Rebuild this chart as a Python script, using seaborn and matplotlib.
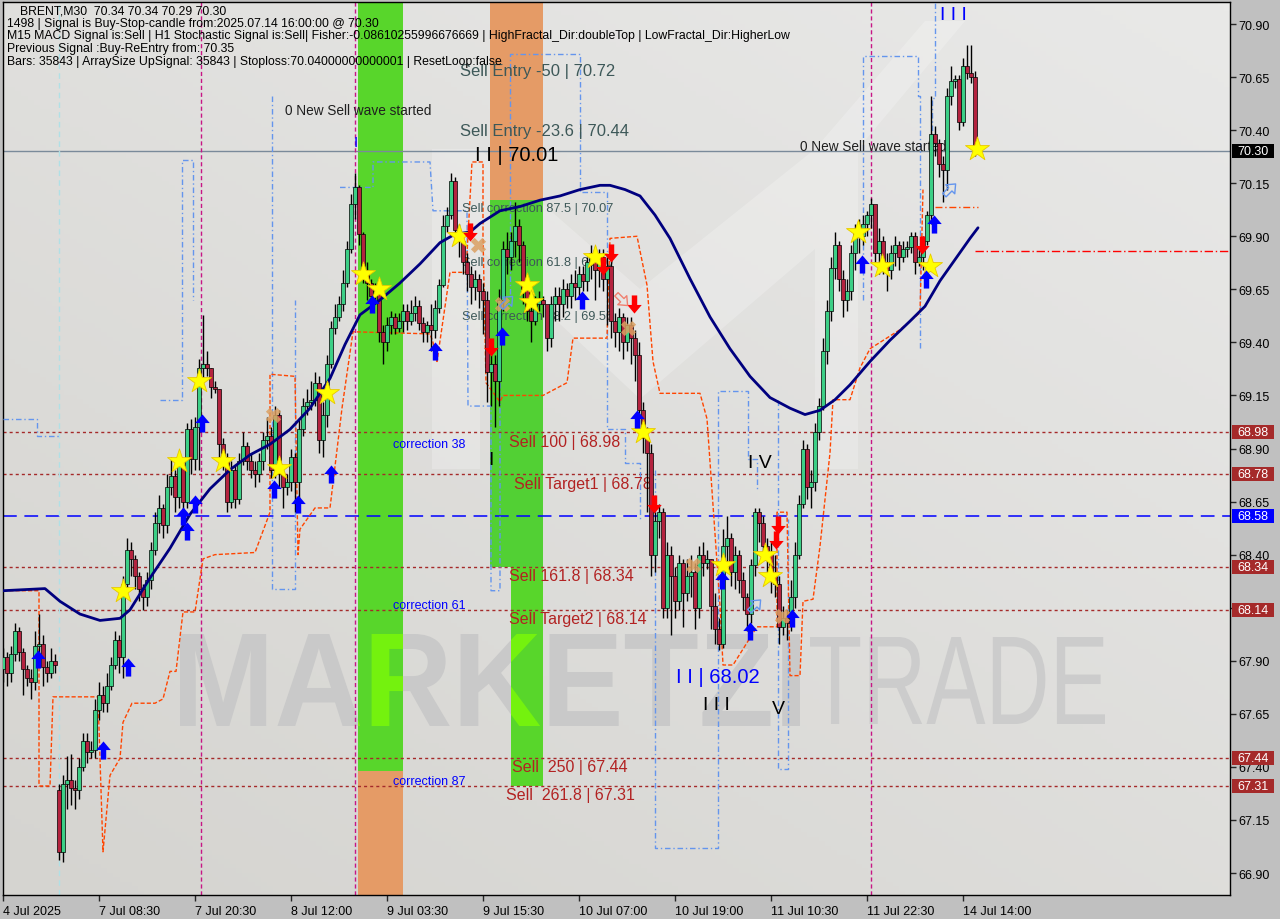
import matplotlib
matplotlib.use("Agg")
import numpy as np
import pandas as pd
import matplotlib.pyplot as plt
import seaborn as sns
from matplotlib import transforms
from matplotlib.font_manager import FontProperties
from matplotlib.patches import PathPatch, Rectangle, Polygon
from matplotlib.textpath import TextPath
from matplotlib.path import Path
from matplotlib.colors import LinearSegmentedColormap

# ---------------- data (x = bar number of 30 min bars) ----------------
closes = [
    67.92, 67.84, 67.93, 68.04, 67.94, 67.86, 67.82, 67.80, 67.97, 67.98,
    67.87, 67.84, 67.90, 67.88, 67.00, 67.32, 67.34, 67.30, 67.29, 67.40,
    67.52, 67.47, 67.48, 67.67, 67.74, 67.70, 67.78, 67.88, 68.00, 67.92,
    68.26, 68.42, 68.38, 68.30, 68.24, 68.20, 68.28, 68.42, 68.55, 68.62,
    68.54, 68.72, 68.77, 68.67, 68.82, 68.65, 68.99, 68.85, 69.00, 69.28,
    69.30, 69.28, 69.19, 69.18, 68.92, 68.86, 68.65, 68.80, 68.66, 68.84,
    68.91, 68.84, 68.80, 68.78, 68.84, 68.94, 68.96, 68.80, 69.06, 68.78,
    68.72, 68.74, 68.86, 68.74, 68.99, 69.10, 69.12, 69.13, 69.21, 68.94,
    69.06, 69.30, 69.47, 69.52, 69.58, 69.68, 69.84, 70.05, 70.13, 69.91,
    69.73, 69.68, 69.62, 69.64, 69.45, 69.40, 69.48, 69.52, 69.47, 69.50,
    69.55, 69.50, 69.54, 69.57, 69.49, 69.45, 69.48, 69.46, 69.56, 69.67,
    69.95, 70.00, 70.16, 69.93, 69.88, 69.78, 69.72, 69.66, 69.70, 69.64,
    69.60, 69.26, 69.30, 69.22, 69.60, 69.84, 69.80, 69.88, 69.95, 69.86,
    69.65, 69.55, 69.50, 69.58, 69.60, 69.58, 69.42, 69.58, 69.62, 69.58,
    69.65, 69.62, 69.68, 69.66, 69.72, 69.69, 69.78, 69.82, 69.74, 69.80,
    69.70, 69.76, 69.50, 69.45, 69.52, 69.40, 69.48, 69.42, 69.34, 69.08,
    68.95, 68.88, 68.40, 68.56, 68.60, 68.15, 68.40, 68.30, 68.18, 68.36,
    68.22, 68.30, 68.32, 68.15, 68.40, 68.36, 68.38, 68.16, 68.05, 67.98,
    68.44, 68.48, 68.32, 68.40, 68.28, 68.20, 68.12, 68.35, 68.60, 68.55,
    68.44, 68.40, 68.30, 68.26, 68.06, 68.10, 68.08, 68.20, 68.40, 68.64,
    68.90, 68.72, 68.74, 68.98, 69.10, 69.36, 69.55, 69.75, 69.86, 69.70,
    69.60, 69.64, 69.82, 69.92, 69.90, 69.96, 70.00, 70.05, 69.82, 69.88,
    69.78, 69.74, 69.82, 69.86, 69.80, 69.84, 69.85, 69.90, 69.78, 69.80,
    69.88, 70.00, 70.38, 70.34, 70.24, 70.21, 70.56, 70.63, 70.64, 70.44,
    70.70, 70.67, 70.65, 70.30,
]
highs = [
    67.96, 67.94, 67.97, 68.08, 68.06, 67.96, 67.88, 67.86, 68.04, 68.12,
    68.02, 67.90, 67.96, 67.93, 67.32, 67.36, 67.45, 67.46, 67.34, 67.44,
    67.56, 67.56, 67.52, 67.72, 67.80, 67.78, 67.84, 67.92, 68.04, 68.02,
    68.30, 68.48, 68.46, 68.40, 68.32, 68.26, 68.32, 68.46, 68.60, 68.68,
    68.64, 68.78, 68.86, 68.80, 68.86, 68.84, 69.02, 69.04, 69.05, 69.32,
    69.53, 69.36, 69.28, 69.22, 69.18, 68.95, 68.88, 68.84, 68.82, 68.88,
    68.98, 68.93, 68.88, 68.84, 68.88, 68.98, 69.05, 69.00, 69.10, 69.08,
    68.80, 68.78, 68.90, 68.88, 69.04, 69.14, 69.18, 69.22, 69.26, 69.24,
    69.12, 69.34, 69.50, 69.58, 69.62, 69.74, 69.88, 70.10, 70.20, 70.14,
    69.92, 69.78, 69.70, 69.68, 69.62, 69.48, 69.52, 69.55, 69.54, 69.54,
    69.58, 69.58, 69.60, 69.62, 69.60, 69.52, 69.50, 69.58, 69.60, 69.70,
    70.00, 70.04, 70.20, 70.18, 69.96, 69.92, 69.82, 69.76, 69.74, 69.72,
    69.68, 69.64, 69.36, 69.34, 69.65, 69.88, 69.92, 69.92, 70.06, 69.98,
    69.88, 69.70, 69.58, 69.62, 69.64, 69.62, 69.56, 69.62, 69.66, 69.66,
    69.70, 69.68, 69.72, 69.74, 69.76, 69.76, 69.80, 69.86, 69.84, 69.84,
    69.84, 69.80, 69.80, 69.54, 69.56, 69.54, 69.52, 69.52, 69.46, 69.40,
    69.12, 69.00, 68.92, 68.60, 68.64, 68.62, 68.46, 68.44, 68.34, 68.40,
    68.38, 68.38, 68.40, 68.36, 68.44, 68.46, 68.42, 68.38, 68.22, 68.10,
    68.52, 68.58, 68.50, 68.44, 68.42, 68.32, 68.22, 68.38, 68.62, 68.62,
    68.58, 68.48, 68.46, 68.40, 68.30, 68.16, 68.14, 68.28, 68.46, 68.68,
    68.94, 68.92, 68.80, 69.02, 69.14, 69.42, 69.60, 69.80, 69.92, 69.88,
    69.74, 69.70, 69.86, 69.96, 69.98, 70.00, 70.02, 70.08, 70.00, 69.94,
    69.90, 69.82, 69.86, 69.90, 69.88, 69.88, 69.88, 69.92, 69.92, 69.84,
    69.90, 70.02, 70.56, 70.42, 70.36, 70.28, 70.60, 70.70, 70.66, 70.66,
    70.74, 70.80, 70.80, 70.68,
]
lows = [
    67.80, 67.78, 67.80, 67.90, 67.90, 67.74, 67.78, 67.72, 67.76, 67.92,
    67.78, 67.80, 67.82, 67.84, 66.96, 66.95, 67.20, 67.22, 67.20, 67.25,
    67.38, 67.42, 67.44, 67.44, 67.62, 67.66, 67.66, 67.76, 67.86, 67.84,
    67.82, 68.22, 68.30, 68.24, 68.18, 68.14, 68.16, 68.24, 68.40, 68.50,
    68.48, 68.50, 68.68, 68.60, 68.62, 68.58, 68.62, 68.78, 68.80, 68.80,
    69.22, 69.24, 69.14, 69.16, 68.86, 68.80, 68.60, 68.62, 68.62, 68.64,
    68.82, 68.80, 68.76, 68.72, 68.74, 68.80, 68.90, 68.76, 68.76, 68.72,
    68.62, 68.68, 68.70, 68.60, 68.60, 68.96, 69.06, 69.08, 69.10, 68.88,
    68.86, 69.00, 69.28, 69.44, 69.50, 69.55, 69.66, 69.82, 69.98, 69.86,
    69.68, 69.60, 69.56, 69.58, 69.40, 69.30, 69.36, 69.44, 69.44, 69.45,
    69.45, 69.46, 69.48, 69.50, 69.46, 69.40, 69.40, 69.36, 69.42, 69.54,
    69.66, 69.92, 69.98, 69.88, 69.80, 69.72, 69.64, 69.58, 69.60, 69.56,
    69.44, 69.12, 69.10, 69.00, 69.10, 69.55, 69.72, 69.74, 69.80, 69.78,
    69.58, 69.50, 69.40, 69.48, 69.55, 69.52, 69.36, 69.38, 69.50, 69.50,
    69.52, 69.56, 69.56, 69.60, 69.62, 69.64, 69.64, 69.70, 69.60, 69.66,
    69.64, 69.48, 69.42, 69.38, 69.36, 69.32, 69.36, 69.30, 69.22, 69.00,
    68.88, 68.60, 68.30, 68.32, 68.48, 68.10, 68.10, 68.02, 68.10, 68.14,
    68.06, 68.18, 68.20, 68.05, 68.10, 68.30, 68.33, 68.05, 67.98, 67.95,
    67.96, 68.36, 68.25, 68.24, 68.22, 68.14, 68.04, 68.08, 68.30, 68.46,
    68.38, 68.32, 68.22, 68.20, 67.98, 68.02, 68.00, 68.04, 68.15, 68.38,
    68.62, 68.66, 68.62, 68.70, 68.94, 69.08, 69.30, 69.50, 69.70, 69.64,
    69.52, 69.55, 69.60, 69.74, 69.82, 69.86, 69.90, 69.94, 69.78, 69.72,
    69.72, 69.64, 69.70, 69.76, 69.74, 69.78, 69.80, 69.82, 69.72, 69.76,
    69.74, 69.86, 69.96, 70.28, 70.18, 70.06, 70.12, 70.52, 70.60, 70.40,
    70.42, 70.64, 70.62, 70.28,
]
first_open = 67.86
gap_bar, gap_open = 14, 67.29          # weekend gap (Fri 4 Jul -> Mon 7 Jul)

tick_bars = [0, 24, 48, 72, 96, 120, 144, 168, 192, 216, 240]
tick_labels = ["4 Jul 2025", "7 Jul 08:30", "7 Jul 20:30", "8 Jul 12:00", "9 Jul 03:30",
               "9 Jul 15:30", "10 Jul 07:00", "10 Jul 19:00", "11 Jul 10:30",
               "11 Jul 22:30", "14 Jul 14:00"]
price_ticks = [66.90, 67.15, 67.40, 67.65, 67.90, 68.15, 68.40, 68.65, 68.90,
               69.15, 69.40, 69.65, 69.90, 70.15, 70.40, 70.65, 70.90]

# moving average (navy line)
ma_bars = [0, 10.5, 14.25, 19.25, 24.25, 29.25, 31.75, 36.75, 41.75, 46.75, 51.75, 56.75,
           61.75, 66.75, 71.75, 76.75, 81.75, 85.5, 89.25, 94.25, 99.25, 104.25, 109.25,
           113, 116.75, 119.25, 124.25, 129.25, 134.25, 139.25, 144.25, 149.25, 151.75,
           155.5, 159.25, 163, 166.75, 171.75, 176.75, 181.75, 186.75, 191.75, 196.75,
           200.5, 204.25, 208, 211.75, 216.75, 221.75, 226.75, 230.5, 234.25, 238,
           241.75, 243.75]
ma_vals = [68.23, 68.24, 68.18, 68.12, 68.09, 68.10, 68.14, 68.29, 68.43, 68.59, 68.71,
           68.80, 68.87, 68.92, 68.99, 69.09, 69.23, 69.39, 69.53, 69.60, 69.68, 69.77,
           69.87, 69.91, 69.92, 69.96, 70.02, 70.04, 70.07, 70.09, 70.12, 70.14, 70.14,
           70.12, 70.09, 70.00, 69.89, 69.70, 69.52, 69.37, 69.24, 69.14, 69.09, 69.06,
           69.08, 69.13, 69.20, 69.31, 69.41, 69.50, 69.57, 69.69, 69.79, 69.89, 69.94]

# trailing stop (orange-red dashed step line)
stop_bars = [0, 9, 9, 11.75, 12.5, 23.75, 25, 26.75, 29.25, 30, 32.25, 38, 40, 41.75, 43.25,
             45, 48, 50, 53, 63, 66.75, 66.75, 73, 73.75, 74.25, 78, 81.75, 84.75, 87.5,
             106.75, 107.5, 108.5, 111.75, 115.75, 117.25, 120, 120, 120.75, 124.25, 125,
             135, 141, 142.5, 151, 151.75, 158.5, 161, 162.5, 164.25, 174.25, 176, 179.25,
             180, 182.5, 188.5, 193.5, 193.5, 196, 196.75, 199.25, 200, 202.5, 204.25,
             206.75, 207.5, 211.75, 214.25, 216.75, 224.25, 229.25, 230]
stop_vals = [68.23, 68.23, 67.31, 67.31, 67.73, 67.73, 67.00, 67.36, 67.44, 67.61, 67.70,
             67.70, 67.72, 67.85, 67.85, 68.13, 68.13, 68.38, 68.40, 68.41, 68.60, 69.25,
             69.24, 68.40, 68.52, 68.62, 68.62, 69.09, 69.45, 69.44, 69.40, 69.31, 69.73,
             69.73, 70.25, 70.25, 69.90, 69.21, 69.12, 69.15, 69.15, 69.21, 69.42, 69.42,
             69.89, 69.90, 69.67, 69.31, 69.16, 69.16, 69.04, 68.16, 67.88, 67.88, 68.06,
             68.06, 68.60, 68.60, 67.83, 67.83, 68.18, 68.19, 68.44, 68.88, 69.13, 69.13,
             69.28, 69.37, 69.46, 69.54, 70.12]
stoploss_price = 70.04
stoploss_bars = [233, 243.75]

# fractal channel (cornflower dash-dot step lines)
frac1_bars = [0, 8.5, 8.5, 14.25]
frac1_vals = [69.04, 69.04, 68.96, 68.96]
frac2_bars = [39.25, 44.75, 44.75, 47.5, 47.5]
frac2_vals = [69.13, 69.13, 70.26, 70.26, 69.60]
frac3_bars = [67.25, 67.25, 73, 73]
frac3_vals = [70.56, 68.24, 68.24, 69.60]
frac4_bars = [84.25, 92.5, 92.5, 106.75, 107.5, 116, 116.25, 122, 122, 124.25, 124.25]
frac4_vals = [70.13, 70.13, 70.25, 70.25, 70.02, 70.02, 69.10, 69.10, 68.23, 68.23, 69.63]
frac5_bars = [126.75, 126.75, 144.25, 144.25, 151, 151, 155.5, 155.5, 159.25, 159.25]
frac5_vals = [69.63, 70.76, 70.76, 70.11, 70.11, 68.99, 68.99, 68.83, 68.83, 68.57]
frac6_bars = [163, 163, 178.75, 178.75, 186.25, 186.25, 188.5, 188.5]
frac6_vals = [68.80, 67.02, 67.02, 69.17, 69.17, 68.85, 68.85, 68.70]
frac7_bars = [193.75, 193.75, 196.25, 196.25]
frac7_vals = [69.13, 67.39, 67.39, 68.57]
frac8_bars = [215, 215, 228.75, 228.75, 229.25, 229.25]
frac8_vals = [69.60, 70.75, 70.75, 70.56, 70.56, 69.37]
frac9_bars = [233, 233, 232.25, 232.25]
frac9_vals = [71.0, 70.55, 70.55, 70.03]

# levels
current_price = 70.30
sell_levels = [68.98, 68.78, 68.34, 68.14, 67.44, 67.31]
blue_level = 68.58
red_level, red_level_from = 69.83, 243
signal_bars = [49.5, 88, 217]           # magenta vertical markers
session_bar = 14

# zone columns (bar span, price span)
zone1_bars = (88.75, 100)
zone1_green = (68.01, 71.1)
zone1_green_low = (67.38, 68.01)
zone1_orange = (66.7, 67.38)
zone2_bars = (121.75, 135)
zone2_orange = (70.07, 71.1)
zone2_green = (68.34, 70.07)
zone2_narrow_bars = (127, 135)
zone2_narrow_green = (67.31, 68.34)

# signal markers
star_bars = [30, 44, 49, 55, 69, 81, 90, 94, 114, 131, 132, 148, 160, 180, 190.5, 191.75,
             213.75, 219.75, 231.75, 243.5]
star_vals = [68.23, 68.84, 69.22, 68.84, 68.81, 69.16, 69.72, 69.65, 69.90, 69.67, 69.59,
             69.80, 68.98, 68.35, 68.40, 68.30, 69.92, 69.76, 69.76, 70.31]
buy_bars = [8.75, 25, 31.25, 45, 46, 48, 49.75, 67.75, 73.75, 82, 92.25, 108, 124.75,
            144.75, 158.5, 179.75, 186.75, 197.25, 214.75, 230.75, 232.75]
buy_vals = [67.91, 67.48, 67.87, 68.58, 68.51, 68.64, 69.02, 68.71, 68.64, 68.78, 69.58,
            69.36, 69.43, 69.60, 69.04, 68.28, 68.04, 68.10, 69.77, 69.70, 69.96]
sell_bars = [116.75, 122, 150, 152, 157.75, 162.75, 193.75, 193.25, 229.75]
sell_vals = [69.92, 69.38, 69.76, 69.82, 69.58, 68.64, 68.54, 68.47, 69.86]
exit_bars = [67.5, 118.75, 124.75, 156.25, 172.5, 194.75]
exit_vals = [69.06, 69.86, 69.58, 69.47, 68.35, 68.11]
hollow_up_bars = [126, 188, 236.75]
hollow_up_vals = [69.59, 68.16, 70.12]
hollow_dn_bars = [154.75]
hollow_dn_vals = [69.60]

header_lines = [
    "BRENT,M30  70.34 70.34 70.29 70.30",
    "1498 | Signal is Buy-Stop-candle from:2025.07.14 16:00:00 @ 70.30",
    "M15 MACD Signal is:Sell | H1 Stochastic Signal is:Sell| Fisher:-0.08610255996676669 | "
    "HighFractal_Dir:doubleTop | LowFractal_Dir:HigherLow",
    "Previous Signal :Buy-ReEntry from: 70.35",
    "Bars: 35843 | ArraySize UpSignal: 35843 | Stoploss:70.04000000000001 | ResetLoop:false",
]

# ---------------- figure ----------------
sns.set_style("ticks")
plt.rcParams["font.family"] = ["Liberation Sans", "DejaVu Sans"]

W, H = 1280, 920
fig = plt.figure(figsize=(W / 100, H / 100), dpi=100)
fig.patch.set_facecolor("#c0c0c0")
ax = fig.add_axes([3 / W, 24 / H, 1227 / W, 893 / H])
YLO, YHI = 66.7964, 71.0037
XLO, XHI = 0, 306.75

# background gradient
bg = LinearSegmentedColormap.from_list("bg", ["#d5d4d0", "#e9e9e8"])
gx, gy = np.meshgrid(np.linspace(0, 1, 200), np.linspace(0, 1, 200))
ax.imshow(0.45 * gx + 0.55 * gy, extent=[0, 1, 0, 1], origin="lower", transform=ax.transAxes,
          cmap=bg, aspect="auto", zorder=0)

# pixel -> display transform for background decoration (image coords, y down)
px = transforms.Affine2D().scale(1 / 100.0, -1 / 100.0).translate(0, H / 100.0) + fig.dpi_scale_trans

# faint logo behind the chart
logo_m = [(432, 470), (432, 150), (480, 150), (640, 290), (815, 150), (858, 150), (858, 470),
          (815, 470), (815, 250), (640, 400), (480, 250), (480, 470)]
logo_arrow = [(815, 150), (925, 22), (965, 22), (858, 150)]
for poly in (logo_m, logo_arrow):
    pp = Polygon(poly, closed=True, transform=px, fc="white", ec="none", alpha=0.22, zorder=0.6)
    ax.add_artist(pp)
    pp.set_clip_path(ax.patch)


def watermark(text, box, weight, color, zorder, clip=None):
    x0, y0, x1, y1 = box
    tp = TextPath((0, 0), text, size=100, prop=FontProperties(family="Liberation Sans", weight=weight))
    bb = tp.get_extents()
    tr = (transforms.Affine2D().translate(-bb.x0, -bb.y0)
          .scale((x1 - x0) / bb.width, (y1 - y0) / bb.height)
          .translate(x0, H - y1).scale(1 / 100.0) + fig.dpi_scale_trans)
    p = PathPatch(tp, transform=tr, fc=color, ec="none", zorder=zorder)
    ax.add_artist(p)
    p.set_clip_path(clip if clip is not None else ax.patch)
    return p


watermark("MARKETZI", (180, 635, 800, 727), "bold", "#c9c9c9", 0.5)
watermark("TRADE", (810, 638, 1105, 725), "normal", "#cccccc", 0.5)

# zone columns
GREEN, LIME, ORANGE = "#58d62b", "#74f20e", "#e59b66"


def zone(bars, prices, color):
    r = Rectangle((bars[0], prices[0]), bars[1] - bars[0], prices[1] - prices[0],
                  fc=color, ec="none", zorder=1)
    ax.add_patch(r)
    return r


g1 = zone(zone1_bars, zone1_green, GREEN)
g1b = zone(zone1_bars, zone1_green_low, GREEN)
zone(zone1_bars, zone1_orange, ORANGE)
zone(zone2_bars, zone2_orange, ORANGE)
g2 = zone(zone2_bars, zone2_green, "#52d034")
g2b = zone(zone2_narrow_bars, zone2_narrow_green, GREEN)
for clip in (g1, g1b, g2, g2b):
    cr = Rectangle(clip.get_xy(), clip.get_width(), clip.get_height(), transform=ax.transData)
    watermark("MARKETZI", (180, 635, 800, 727), "bold", LIME, 1.1, clip=cr)

# horizontal levels
for lv in sell_levels:
    ax.axhline(lv, color="#a52a2a", lw=1, ls=(0, (2.2, 2.2)), zorder=2)
ax.axhline(blue_level, color="#0000ff", lw=1.1, ls=(0, (9, 5)), zorder=2)
ax.axhline(current_price, color="#7a8a9a", lw=1, zorder=2)
ax.plot([red_level_from, XHI], [red_level, red_level], color="#ff0000", lw=1,
        ls=(0, (6, 2, 1, 2)), zorder=2)

# vertical markers
for sb in signal_bars:
    ax.axvline(sb, color="#c71585", lw=1, ls=(0, (3, 2)), zorder=2)
ax.axvline(session_bar, color="#b0e0e6", lw=1, ls=(0, (4, 3)), zorder=2)

# fractal step lines
for fb, fv in [(frac1_bars, frac1_vals), (frac2_bars, frac2_vals), (frac3_bars, frac3_vals),
               (frac4_bars, frac4_vals), (frac5_bars, frac5_vals), (frac6_bars, frac6_vals),
               (frac7_bars, frac7_vals), (frac8_bars, frac8_vals), (frac9_bars, frac9_vals)]:
    ax.plot(fb, fv, color="#6495ed", lw=1, ls=(0, (4, 2, 1, 2)), zorder=3)

# trailing stop
ax.plot(stop_bars, stop_vals, color="#ff4500", lw=1, ls=(0, (3, 1.5)), zorder=3)
ax.plot(stoploss_bars, [stoploss_price] * 2, color="#ff4500", lw=1, ls=(0, (5, 2, 1, 2)), zorder=3)

# level / wave text
lbl = dict(zorder=3, va="center", ha="left")
ax.text(70.5, 70.495, "0 New Sell wave started", fontsize=9.8, color="#202020", **lbl)
ax.text(199.25, 70.325, "0 New Sell wave started", fontsize=9.8, color="#202020", **lbl)
ax.text(114.25, 70.679, "Sell Entry -50 | 70.72", fontsize=12, color="#3d5858", **lbl)
ax.text(114.25, 70.40, "Sell Entry -23.6 | 70.44", fontsize=12, color="#3d5858", **lbl)
ax.text(118, 70.283, "I I | 70.01", fontsize=14.5, color="black", **lbl)
ax.text(114.75, 70.033, "Sell correction 87.5 | 70.07", fontsize=9.2, color="#3d5858", **lbl)
ax.text(114.75, 69.779, "Sell correction 61.8 | 69.80", fontsize=9.2, color="#3d5858", **lbl)
ax.text(114.75, 69.524, "Sell correction 38.2 | 69.56", fontsize=9.2, color="#3d5858", **lbl)
ax.text(97.5, 68.921, "correction 38", fontsize=9, color="#0000ff", **lbl)
ax.text(97.5, 68.163, "correction 61", fontsize=9, color="#0000ff", **lbl)
ax.text(97.5, 67.333, "correction 87", fontsize=9, color="#0000ff", **lbl)
ax.text(126.5, 68.935, "Sell 100 | 68.98", fontsize=11.5, color="#b22222", **lbl)
ax.text(127.75, 68.737, "Sell Target1 | 68.78", fontsize=11.5, color="#b22222", **lbl)
ax.text(126.5, 68.30, "Sell 161.8 | 68.34", fontsize=11.5, color="#b22222", **lbl)
ax.text(126.5, 68.097, "Sell Target2 | 68.14", fontsize=11.5, color="#b22222", **lbl)
ax.text(127.25, 67.40, "Sell  250 | 67.44", fontsize=11.5, color="#b22222", **lbl)
ax.text(125.75, 67.268, "Sell  261.8 | 67.31", fontsize=11.5, color="#b22222", **lbl)
ax.text(121.25, 68.85, "I", fontsize=14, color="black", **lbl)
ax.text(186.25, 68.836, "I V", fontsize=14, color="black", **lbl)
ax.text(168.25, 67.828, "I I | 68.02", fontsize=14.5, color="#0000ff", **lbl)
ax.text(175, 67.696, "I I I", fontsize=14, color="black", **lbl)
ax.text(192.25, 67.673, "V", fontsize=14, color="black", **lbl)
ax.text(234.25, 70.947, "I I I", fontsize=14, color="#0000ff", **lbl)
ax.text(87.6, 70.344, "I", fontsize=11, color="#0000ff", **lbl)

# candles
opens = [first_open] + closes[:-1]
opens[gap_bar] = gap_open
df = pd.DataFrame({"bar": np.arange(len(closes)), "open": opens, "high": highs,
                   "low": lows, "close": closes})
bull = df["close"] >= df["open"]
body_lo = df[["open", "close"]].min(axis=1)
body_h = (df["close"] - df["open"]).abs().clip(lower=0.006)
ax.vlines(df["bar"], df["low"], df["high"], color="black", lw=1, zorder=4)
ax.bar(df["bar"], body_h, bottom=body_lo, width=0.8,
       color=np.where(bull, "#3ccf86", "#b4233f"), edgecolor="black", linewidth=0.5, zorder=5)

# moving average
sns.lineplot(x=ma_bars, y=ma_vals, ax=ax, color="#00007f", lw=2, sort=False,
             estimator=None, zorder=6)

# signal markers
up_v = [(-0.3, -1.0), (0.3, -1.0), (0.3, 0.05), (0.8, 0.05), (0.0, 1.0), (-0.8, 0.05),
        (-0.3, 0.05), (-0.3, -1.0)]
up_arrow = Path(up_v, closed=True)
down_arrow = Path([(x, -y) for x, y in up_v], closed=True)
diag_up = transforms.Affine2D().rotate_deg(-45).transform_path(up_arrow)
diag_dn = transforms.Affine2D().rotate_deg(45).transform_path(down_arrow)
sns.scatterplot(x=star_bars, y=star_vals, ax=ax, marker="*", s=330, color="#ffff00",
                edgecolor="#e8c800", linewidth=0.6, zorder=8, legend=False)
sns.scatterplot(x=buy_bars, y=buy_vals, ax=ax, marker=up_arrow, s=170, color="#0000ff",
                linewidth=0, zorder=8, legend=False)
sns.scatterplot(x=sell_bars, y=sell_vals, ax=ax, marker=down_arrow, s=170, color="#ff0000",
                linewidth=0, zorder=8, legend=False)
sns.scatterplot(x=exit_bars, y=exit_vals, ax=ax, marker="X", s=120, color="#dba062",
                alpha=0.85, linewidth=0, zorder=8, legend=False)
ax.scatter(hollow_up_bars, hollow_up_vals, marker=diag_up, s=110, facecolors="none",
           edgecolors="#6495ed", linewidths=1, zorder=8)
ax.scatter(hollow_dn_bars, hollow_dn_vals, marker=diag_dn, s=110, facecolors="none",
           edgecolors="#f08070", linewidths=1, zorder=8)

# axes
ax.set_xlabel("")
ax.set_ylabel("")
for s in ax.spines.values():
    s.set_color("black")
    s.set_linewidth(1)
ax.yaxis.tick_right()
ax.set_yticks(price_ticks, labels=[f"{p:.2f}" for p in price_ticks])
ax.set_xticks(tick_bars, labels=tick_labels)
for t in ax.get_xticklabels():
    t.set_horizontalalignment("left")
ax.tick_params(axis="y", direction="out", length=4, width=1, pad=2, labelsize=9,
               labelcolor="black", left=False, right=True)
ax.tick_params(axis="x", direction="out", length=4, width=1, pad=3, labelsize=9,
               labelcolor="black")

# price boxes on the right scale
box_tr = transforms.blended_transform_factory(ax.transAxes, ax.transData)
BOX_W = 42 / 1227
BOX_H = 14 / 212.25


def price_box(p, bg):
    ax.add_patch(Rectangle((1.0015, p - BOX_H / 2), BOX_W, BOX_H, transform=box_tr, fc=bg,
                           ec="none", clip_on=False, zorder=10))
    ax.text(1.0015 + BOX_W / 2, p, f"{p:.2f}", transform=box_tr, ha="center", va="center",
            fontsize=9, color="white", clip_on=False, zorder=11)


price_box(current_price, "black")
for lv in sell_levels:
    price_box(lv, "#a52a2a")
price_box(blue_level, "#0000ff")
ax.set_xlim(XLO, XHI)
ax.set_ylim(YLO, YHI)

# header
for k, line in enumerate(header_lines):
    fig.text((20 if k == 0 else 7) / W, 1 - (11 + 12.7 * k) / H, line, fontsize=8.8,
             color="black", va="center", ha="left")

fig.savefig("out.png", dpi=100, facecolor=fig.get_facecolor())
